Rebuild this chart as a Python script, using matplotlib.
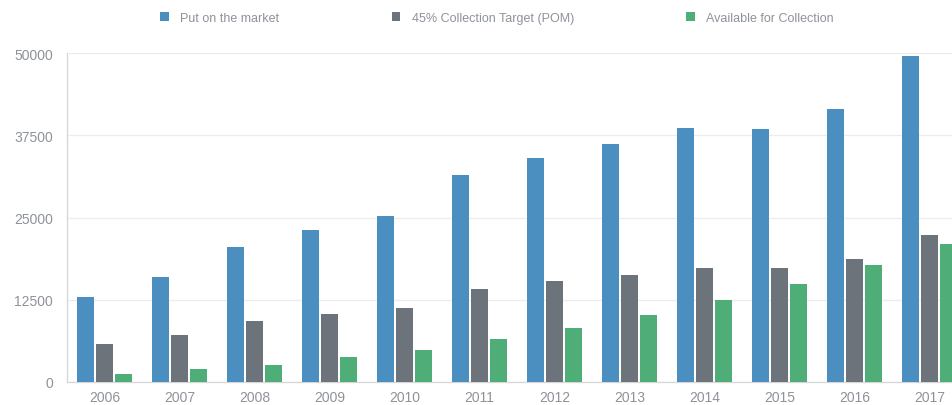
import matplotlib.pyplot as plt
from matplotlib.patches import Patch
import numpy as np

# Data
years = ["2006", "2007", "2008", "2009", "2010", "2011",
         "2012", "2013", "2014", "2015", "2016", "2017"]
put_on_market = [12900, 16000, 20500, 23100, 25200, 31400,
                 34000, 36200, 38600, 38400, 41500, 49500]
collection_target = [5800, 7200, 9200, 10400, 11300, 14100,
                     15300, 16300, 17400, 17300, 18700, 22300]
available = [1200, 2000, 2600, 3800, 4900, 6500,
             8200, 10200, 12500, 14900, 17800, 20900]
series_names = ["Put on the market", "45% Collection Target (POM)", "Available for Collection"]
colors = ["#4a8fc0", "#6c737b", "#4fae77"]
y_ticks = [0, 12500, 25000, 37500, 50000]

W, H = 952, 406
fig = plt.figure(figsize=(W / 100, H / 100), dpi=100)
plt.rcParams['font.family'] = ['Liberation Sans', 'DejaVu Sans']

# axes extends past the right edge so the last group is cut off
ax = fig.add_axes([67 / W, 23 / H, 900 / W, 329 / H])

x = np.arange(len(years))
bw = 0.23
step = 0.255
for i, vals in enumerate([put_on_market, collection_target, available]):
    ax.bar(x + (i - 1) * step, vals, width=bw, color=colors[i], zorder=3)

ax.set_xlim(-0.5, len(years) - 0.5)
ax.set_ylim(0, 50000)
ax.set_yticks(y_ticks)
ax.set_yticklabels([str(t) for t in y_ticks])
ax.set_xticks(x)
ax.set_xticklabels(years)

ax.grid(axis='y', color='#ececec', linewidth=0.9, zorder=0)
for s in ['top', 'right']:
    ax.spines[s].set_visible(False)
for s in ['left', 'bottom']:
    ax.spines[s].set_color('#d6d6d6')
    ax.spines[s].set_linewidth(0.9)
ax.tick_params(axis='both', length=0, colors='#8e939a', labelsize=10)
ax.tick_params(axis='y', pad=10)
ax.tick_params(axis='x', pad=6)

handles = [Patch(facecolor=c, edgecolor='none') for c in colors]
fig.legend(handles, series_names, loc='center', bbox_to_anchor=(497 / W, 1 - 19 / H),
           ncol=3, frameon=False, fontsize=9, handlelength=0.7, handleheight=0.7,
           handletextpad=0.9, columnspacing=9.0, labelcolor='#8e939a')

fig.savefig("out.png", dpi=100)
